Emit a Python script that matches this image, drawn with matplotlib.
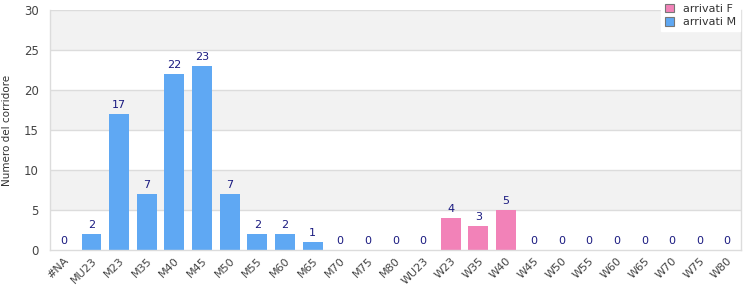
import matplotlib
matplotlib.use("Agg")
import matplotlib.pyplot as plt
import numpy as np
from matplotlib.patches import Patch

categories = ["#NA", "MU23", "M23", "M35", "M40", "M45", "M50", "M55", "M60", "M65",
              "M70", "M75", "M80", "WU23", "W23", "W35", "W40", "W45", "W50", "W55",
              "W60", "W65", "W70", "W75", "W80"]
arrivati_M = [0, 2, 17, 7, 22, 23, 7, 2, 2, 1, 0, 0, 0, 0, 0, 0, 0, 0, 0, 0, 0, 0, 0, 0, 0]
arrivati_F = [0, 0, 0, 0, 0, 0, 0, 0, 0, 0, 0, 0, 0, 0, 4, 3, 5, 0, 0, 0, 0, 0, 0, 0, 0]
yticks = [0, 5, 10, 15, 20, 25, 30]

plt.rcParams['font.family'] = ['DejaVu Sans']
fig = plt.figure(figsize=(7.5, 3.0), dpi=100)
ax = fig.add_axes([50/750, 50/300, 691/750, 240/300])

x = np.arange(len(categories))
m = np.array(arrivati_M)
f = np.array(arrivati_F)

for i in range(len(yticks) - 1):
    if i % 2 == 1:
        ax.axhspan(yticks[i], yticks[i + 1], color="#f2f2f2", zorder=0, lw=0)
for y in yticks[1:]:
    ax.axhline(y, color="#dcdcdc", lw=1, zorder=1)

w = 0.72
ax.bar(x, m, width=w, color="#5fa8f3", zorder=2, label="arrivati M")
ax.bar(x, f, width=w, bottom=m, color="#f282b8", zorder=2, label="arrivati F")

for i in range(len(x)):
    total = m[i] + f[i]
    ax.text(x[i], total + 0.45, str(total), ha="center", va="bottom",
            fontsize=8, color="#1a1a80", zorder=3)

ax.set_xlim(-0.5, len(x) - 0.5)
ax.set_ylim(0, 30)
ax.set_yticks(yticks)
ax.set_xticks(x)
ax.set_xticklabels(categories, rotation=45, ha="right", rotation_mode="anchor",
                   fontsize=8, color="#444444")
ax.tick_params(axis="y", labelsize=8.5, colors="#444444", length=0, pad=8)
ax.tick_params(axis="x", length=0, pad=4)
for s in ax.spines.values():
    s.set_color("#dcdcdc")
    s.set_linewidth(1)
ax.spines["top"].set_visible(False)
ax.set_ylabel("Numero del corridore", fontsize=7.5, color="#333333")
ax.yaxis.set_label_coords(-38/691, 0.5)

handles = [Patch(facecolor="#f282b8", edgecolor="#777777", lw=0.8),
           Patch(facecolor="#5fa8f3", edgecolor="#777777", lw=0.8)]
leg = fig.legend(handles, ["arrivati F", "arrivati M"], loc="upper right",
                 bbox_to_anchor=(740/750, 1.0), fontsize=8, frameon=True,
                 handlelength=0.8, handleheight=0.8, labelspacing=0.3,
                 borderpad=0.35, handletextpad=0.8, borderaxespad=0.0)
leg.get_frame().set_facecolor("white")
leg.get_frame().set_edgecolor("white")
leg.get_frame().set_alpha(1)
leg.get_frame().set_boxstyle("square", pad=0.0)
for t in leg.get_texts():
    t.set_color("#333333")

fig.savefig("out.png", dpi=100)
